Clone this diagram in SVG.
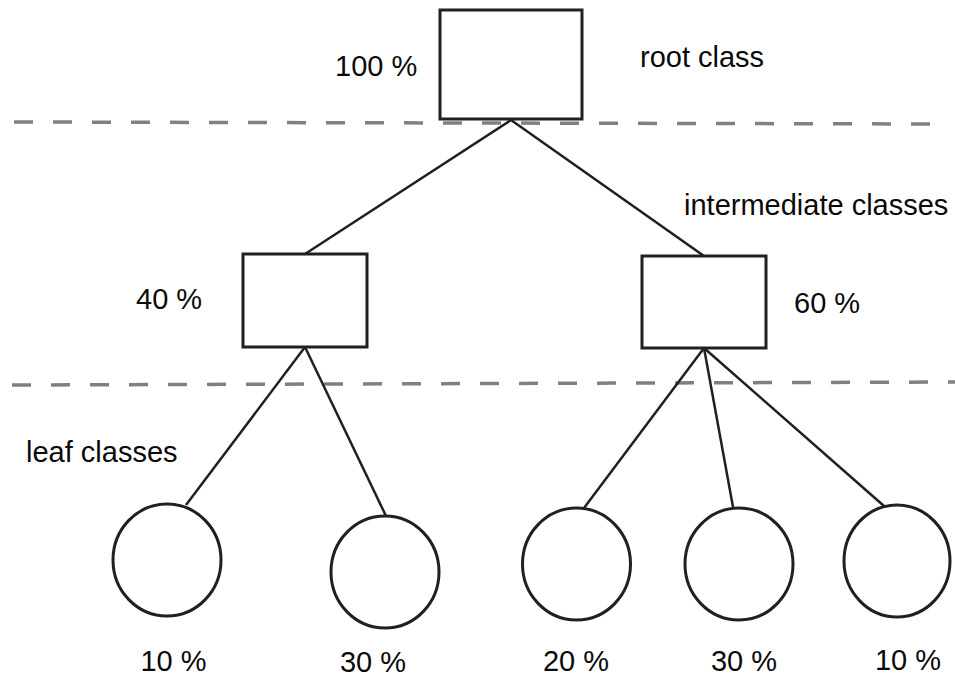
<svg xmlns="http://www.w3.org/2000/svg" width="955" height="679" viewBox="0 0 955 679">
  <style>
    .bg { fill: #ffffff; }
    .box { fill: #ffffff; stroke: #231f20; stroke-width: 3; }
    .leaf { fill: #ffffff; stroke: #231f20; stroke-width: 3; }
    .edge { stroke: #231f20; stroke-width: 2.5; fill: none; }
    .level { stroke: #808080; stroke-width: 3.5; stroke-dasharray: 19 20; fill: none; }
    .lbl { font-family: "Liberation Sans", Arial, sans-serif; font-size: 29px; fill: #0a0a0a; }
    .mid { text-anchor: middle; }
  </style>
  <rect class="bg" x="0" y="0" width="955" height="679"/>

  <!-- level separators -->
  <g id="separators">
    <line class="level" x1="14" y1="122" x2="945" y2="124"/>
    <line class="level" x1="12" y1="385" x2="955" y2="382"/>
  </g>

  <!-- connectors -->
  <g id="connectors">
    <line class="edge" x1="511" y1="120" x2="305" y2="254"/>
    <line class="edge" x1="511" y1="120" x2="704" y2="256"/>
    <line class="edge" x1="305" y1="347" x2="186" y2="505"/>
    <line class="edge" x1="305" y1="347" x2="386" y2="516"/>
    <line class="edge" x1="704" y1="348" x2="584" y2="508"/>
    <line class="edge" x1="704" y1="348" x2="733" y2="507"/>
    <line class="edge" x1="704" y1="348" x2="884" y2="506"/>
  </g>

  <!-- root class -->
  <g id="root">
    <rect class="box" x="440" y="10" width="142" height="109"/>
    <text class="lbl" x="335" y="76">100 %</text>
    <text class="lbl" x="640" y="67">root class</text>
  </g>

  <!-- intermediate classes -->
  <g id="inter-left">
    <rect class="box" x="243" y="254" width="124" height="93"/>
    <text class="lbl" x="136" y="309">40 %</text>
  </g>
  <g id="inter-right">
    <rect class="box" x="642" y="256" width="124" height="92"/>
    <text class="lbl" x="794" y="313">60 %</text>
  </g>
  <text class="lbl" x="684" y="215">intermediate classes</text>

  <!-- leaf classes -->
  <text class="lbl" x="26" y="462">leaf classes</text>
  <g id="leaf1">
    <ellipse class="leaf" cx="167" cy="560" rx="54" ry="56"/>
    <text class="lbl mid" x="173.5" y="671">10 %</text>
  </g>
  <g id="leaf2">
    <ellipse class="leaf" cx="385" cy="572" rx="54" ry="56"/>
    <text class="lbl mid" x="373" y="672">30 %</text>
  </g>
  <g id="leaf3">
    <ellipse class="leaf" cx="576.5" cy="564" rx="54" ry="56"/>
    <text class="lbl mid" x="576" y="671">20 %</text>
  </g>
  <g id="leaf4">
    <ellipse class="leaf" cx="739" cy="564" rx="54" ry="56"/>
    <text class="lbl mid" x="744" y="671">30 %</text>
  </g>
  <g id="leaf5">
    <ellipse class="leaf" cx="897" cy="561" rx="53" ry="56"/>
    <text class="lbl mid" x="908" y="670">10 %</text>
  </g>
</svg>
